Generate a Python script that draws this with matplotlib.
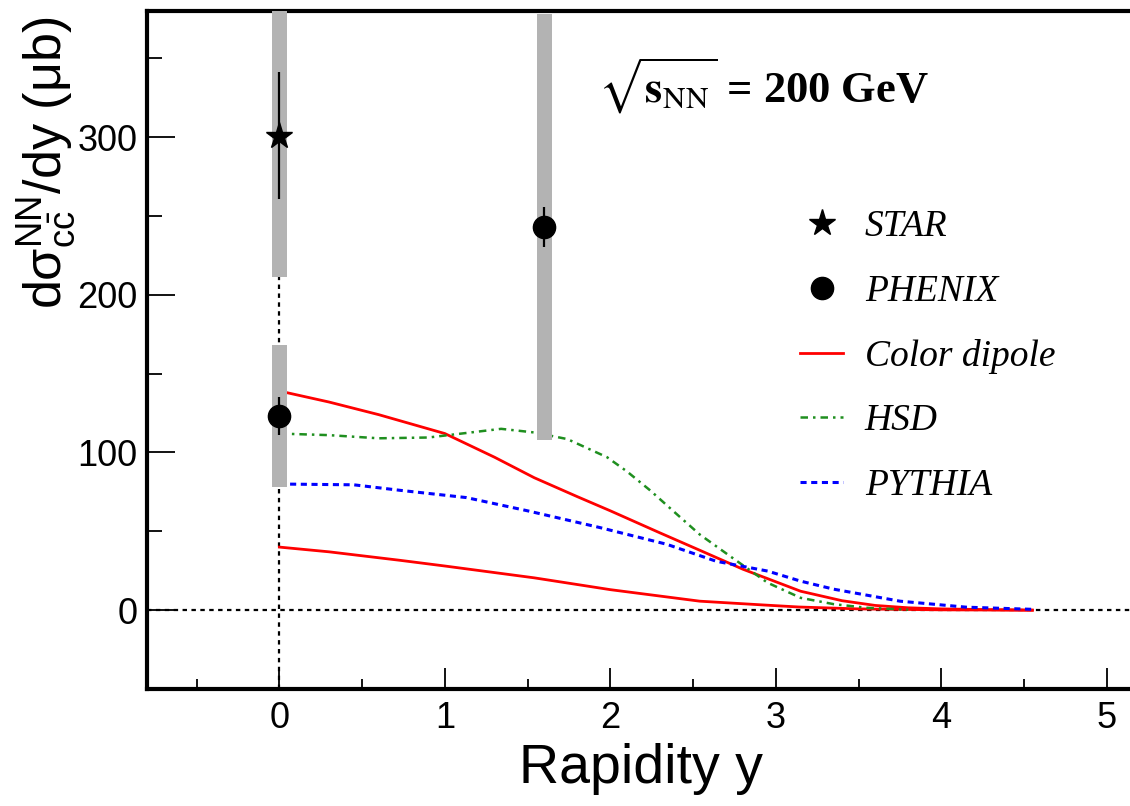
import numpy as np
import matplotlib.pyplot as plt
from matplotlib.lines import Line2D

plt.rcParams['mathtext.fontset'] = 'custom'
plt.rcParams['mathtext.rm'] = 'Liberation Sans'
plt.rcParams['mathtext.it'] = 'Liberation Sans:italic'
plt.rcParams['mathtext.bf'] = 'Liberation Sans:bold'

# measurements: value, stat. error, syst. error
star_y, star_val, star_stat, star_sys = 0.0, 301., 40., 90.
phenix_y = [0.0, 1.6]
phenix_val = [123., 243.]
phenix_stat = [12., 12.5]
phenix_sys = [45., 135.]

# model curves
cd_hi_x = [0.0, 0.3, 0.6, 1.0, 1.3, 1.54, 1.8, 2.0, 2.3, 2.54, 2.8, 3.0, 3.15, 3.4, 3.6, 3.8, 4.0, 4.3, 4.55]
cd_hi_y = [139., 132., 124., 112., 97., 84., 72., 63., 49., 38., 26., 18., 12., 6., 3., 1.5, 0.8, 0.3, 0.]
cd_lo_x = [0.0, 0.3, 0.73, 1.0, 1.54, 2.0, 2.54, 2.94, 3.14, 3.5, 4.0, 4.55]
cd_lo_y = [40., 37., 31.6, 28., 20.5, 13., 5.7, 3.2, 2., 0.8, 0.2, 0.]
hsd_x = [0.0, 0.3, 0.6, 0.9, 1.1, 1.34, 1.54, 1.74, 1.98, 2.1, 2.24, 2.4, 2.54, 2.74, 2.95, 3.15, 3.35, 3.55, 3.8]
hsd_y = [112., 111., 109., 109.5, 112., 115., 112.7, 108.5, 97., 88., 76., 61., 48., 33., 17.4, 7.8, 3.8, 1.5, 0.3]
py_x = [0.0, 0.45, 0.73, 1.13, 1.5, 1.94, 2.34, 2.64, 2.95, 3.15, 3.35, 3.75, 4.15, 4.56]
py_y = [80., 79.5, 76., 71.4, 63., 52.3, 41.8, 31., 24.8, 18.4, 13.3, 5.7, 1.9, 0.5]

W, H = 1130, 806
fig = plt.figure(figsize=(W / 100, H / 100), dpi=100)
ax = fig.add_axes([147 / W, (H - 689) / H, 1 - 147 / W, (689 - 11) / H])
xmin, xmax = -0.8, 5.14
ymin, ymax = -50, 380
ax.set_xlim(xmin, xmax)
ax.set_ylim(ymin, ymax)

red, green, blue, grey = '#ff0000', '#1f8f1f', '#0000ff', '#b3b3b3'

ax.plot(cd_hi_x, cd_hi_y, color=red, lw=2, zorder=2)
ax.plot(cd_lo_x, cd_lo_y, color=red, lw=2, zorder=2)
ax.plot(hsd_x, hsd_y, color=green, lw=1.8, ls=(0, (3, 2, 1, 2)), zorder=2)
ax.plot(py_x, py_y, color=blue, lw=2.2, ls=(0, (2, 1.5)), zorder=2)

# reference lines
ax.axhline(0, color='k', lw=1.6, ls=(0, (2, 2)), zorder=1)
ax.vlines(0, ymin, star_val - star_sys, color='k', lw=1.6, ls=(0, (2, 2)), zorder=1)

# systematic boxes
bw = 0.09
ax.bar([star_y], [2 * star_sys], bottom=[star_val - star_sys], width=bw, color=grey, zorder=3)
ax.bar(phenix_y, 2 * np.array(phenix_sys), bottom=np.array(phenix_val) - np.array(phenix_sys),
       width=bw, color=grey, zorder=3)

# data points
ax.errorbar([star_y], [star_val], yerr=[star_stat], fmt='*', color='k', ms=20, elinewidth=1.6, capsize=0, zorder=4)
ax.errorbar(phenix_y, phenix_val, yerr=phenix_stat, fmt='o', color='k', ms=16, elinewidth=1.6, capsize=0, zorder=4)

# axes cosmetics
for s in ['left', 'bottom', 'top']:
    ax.spines[s].set_linewidth(3)
ax.spines['right'].set_visible(False)
ax.set_xticks([0, 1, 2, 3, 4, 5])
ax.set_xticks(np.arange(-0.5, 5.1, 0.5), minor=True)
ax.set_yticks([0, 100, 200, 300])
ax.set_yticks([-50, 50, 150, 250, 350], minor=True)
ax.tick_params(axis='both', which='both', direction='in', width=1.3, top=False, right=False)
ax.tick_params(axis='y', which='major', length=20, pad=7)
ax.tick_params(axis='y', which='minor', length=11)
ax.tick_params(axis='x', which='major', length=15, pad=9)
ax.tick_params(axis='x', which='minor', length=7)
for lab in ax.get_xticklabels() + ax.get_yticklabels():
    lab.set_fontfamily('Liberation Sans')
    lab.set_fontsize(26)

ax.set_xlabel('Rapidity y', fontsize=40, family='Liberation Sans')
ax.xaxis.set_label_coords((641 - 147) / (W - 147), -0.08)
fig.text(46 / W, 1 - 163 / H, r'd$\mathrm{\sigma}^{\mathrm{NN}}_{\mathrm{c\bar{c}}}$/dy ($\mathrm{\mu}$b)',
         rotation=90, ha='center', va='center', fontsize=37.5, family='Liberation Sans',
         math_fontfamily='custom')

ax.text((598 - 147) / (W - 147), (689 - 103) / (689 - 11),
        r'$\sqrt{\mathbf{s}_{\mathrm{NN}}}$ = 200 GeV', transform=ax.transAxes,
        fontsize=32, fontweight='bold', family='Liberation Serif', math_fontfamily='stix',
        ha='left', va='baseline')

handles = [
    Line2D([], [], ls='none', marker='*', color='k', ms=20),
    Line2D([], [], ls='none', marker='o', color='k', ms=16),
    Line2D([], [], color=red, lw=2),
    Line2D([], [], color=green, lw=1.8, ls=(0, (3, 2, 1, 2))),
    Line2D([], [], color=blue, lw=2.2, ls=(0, (2, 1.5))),
]
labels = ['STAR', 'PHENIX', 'Color dipole', 'HSD', 'PYTHIA']
ax.legend(handles, labels, loc='upper left', bbox_to_anchor=(800 / W, 1 - 210 / H),
          bbox_transform=fig.transFigure, frameon=False, borderpad=0, borderaxespad=0,
          handlelength=1.15, handletextpad=0.58, labelspacing=0.8,
          prop={'family': 'Liberation Serif', 'style': 'italic', 'size': 27})

fig.savefig('out.png', dpi=100)
